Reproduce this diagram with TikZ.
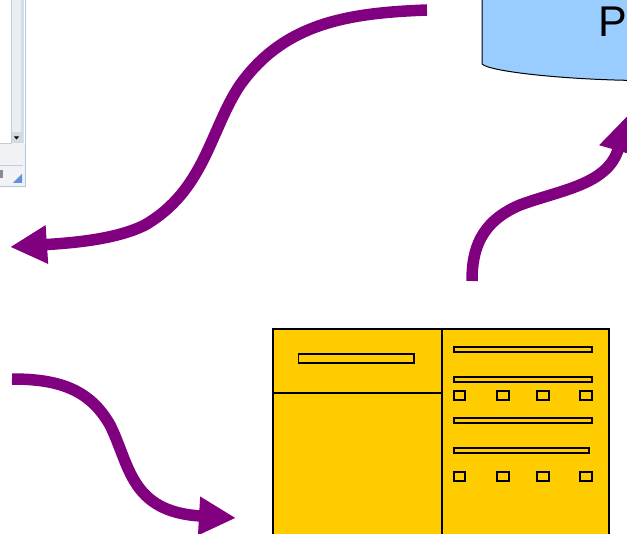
\documentclass[tikz,border=0pt]{standalone}
\usepackage{fontspec}
\setmainfont{Liberation Sans}
\usetikzlibrary{arrows.meta}
\definecolor{flow}{HTML}{800080}
\definecolor{gold}{HTML}{FFCC00}
\definecolor{sky}{HTML}{99CCFF}
\definecolor{barfill}{HTML}{E9EEF4}
\definecolor{barside}{HTML}{D3DEE8}
\definecolor{barbtn}{HTML}{D5DAE0}
\definecolor{winline}{HTML}{C4CDD6}
\definecolor{winpale}{HTML}{F0F2F5}
\definecolor{winedge}{HTML}{B4C6DC}
\definecolor{grip}{HTML}{5F93DC}
\tikzset{
  flowline/.style={draw=flow,line width=11.5pt,line join=round},
  flowtip/.style={-{Triangle[length=37pt,width=36pt,color=flow]}},
  slot/.style={draw=black,line width=1.4pt,fill=gold},
  panel/.style={draw=black,line width=2pt,fill=gold},
  divider/.style={draw=black,line width=2pt}
}
\begin{document}
\begin{tikzpicture}[x=1pt,y=-1pt]
\useasboundingbox (0,0) rectangle (627,534);
\clip (0,0) rectangle (627,534);
% window fragment
\fill[winpale] (0,143) rectangle (25,187);
\fill[barfill] (11,0) rectangle (21,132);
\fill[barside] (21,0) rectangle (24,143);
\fill[barbtn] (11,132) rectangle (22,143);
\fill[black] (14,136.5) -- (19,136.5) -- (16.5,139.5) -- cycle;
\draw[winline,line width=.7pt] (11,0) -- (11,143) -- (0,143);
\draw[winline,line width=.7pt] (0,165) -- (23,165);
\fill[grip] (22,174) -- (22,183) -- (13,183) -- cycle;
\fill[black!45] (0,170) rectangle (3,178);
\draw[winedge,line width=1pt] (25,0) -- (25,187) -- (0,187);
% database fragment
\node[coordinate] (dbleft) at (482,64) {};
\node[coordinate] (dbright) at (640,80.5) {};
\path[fill=sky] (482,-5) -- (dbleft) .. controls (490,72) and (570,80) .. (dbright) -- (640,-5) -- cycle;
\draw[black,line width=1pt] (482,-5) -- (dbleft) .. controls (490,72) and (570,80) .. (dbright);
\node[anchor=base west,inner sep=0pt,font=\fontsize{43}{43}\selectfont] (dbtext) at (598,37) {P};
% cabinet
\node[coordinate] (cabA) at (273,329) {};
\node[coordinate] (cabB) at (609,540) {};
\path[panel] (cabA) rectangle (cabB);
\node[coordinate] (midT) at (442,329) {};
\node[coordinate] (midB) at (442,540) {};
\node[coordinate] (shelfL) at (273,393) {};
\node[coordinate] (shelfR) at (442,393) {};
\draw[divider] (midT) -- (midB);
\draw[divider] (shelfL) -- (shelfR);
\draw[slot] (298.5,354) rectangle (414,363);
\draw[slot] (454,347) rectangle (592,352);
\draw[slot] (454,377) rectangle (592,382);
\draw[slot] (454,418) rectangle (592,423);
\draw[slot] (454,448) rectangle (589,453);
\foreach \x/\w in {454/11,497/12,537/12,580/12}{
  \draw[slot] (\x,391) rectangle ++(\w,9);
  \draw[slot] (\x,472) rectangle ++(\w,9);
}
% connectors
\node[coordinate] (a1) at (427,10) {};
\node[coordinate] (a1e) at (10,247) {};
\node[coordinate] (a2) at (472,281) {};
\node[coordinate] (a2e) at (628,115) {};
\node[coordinate] (a3) at (12,379) {};
\node[coordinate] (a3e) at (236,518) {};
\draw[flowline,flowtip] (a1) .. controls (350,13) and (285,22) .. (240,85)
  .. controls (210,130) and (205,190) .. (145,225)
  .. controls (115,240) and (70,243) .. (a1e);
\draw[flowline,flowtip] (a2) .. controls (472,250) and (480,222) .. (520,205)
  .. controls (560,190) and (608,185) .. (a2e);
\draw[flowline,flowtip] (a3) .. controls (60,379) and (90,390) .. (110,425)
  .. controls (130,465) and (130,512) .. (a3e);
\end{tikzpicture}
\end{document}
